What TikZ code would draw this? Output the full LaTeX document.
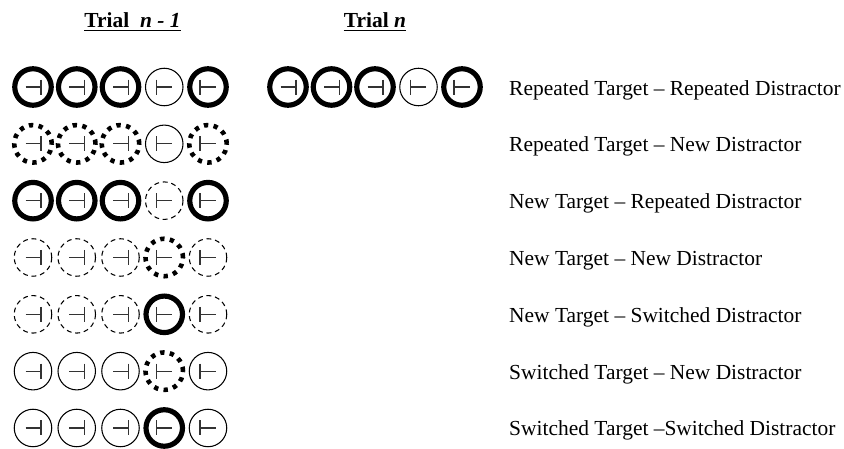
\documentclass[tikz,border=0pt]{standalone}
\usepackage{fontspec}
\setmainfont{Liberation Serif}
\usetikzlibrary{positioning}
\tikzset{
	ring/.style={circle, draw, inner sep=0pt, minimum size=1.125cm, line width=1pt},
	thickring/.style={minimum size=1.095cm, line width=4.4pt},
	thinring/.style={line width=0.9pt},
	dotring/.style={line width=3.9pt, dash pattern=on 3.7pt off 4.6pt},
	dashring/.style={line width=0.9pt, dash pattern=on 4.2pt off 3.2pt},
	bar/.style={line width=1pt, draw=black!80},
	heading/.style={font=\fontsize{18.3}{22}\selectfont\bfseries, anchor=base, inner sep=0pt},
	caption/.style={font=\fontsize{18.3}{22}\selectfont, anchor=base west, inner sep=0pt},
}
% one ring with its T bar: name, x, y, ring style, direction (1 = left, -1 = right)
\newcommand{\stim}[5]{%
	\node[ring, #4] (#1) at (#2,#3) {};
	\draw[bar] ([shift={({-7.5*#5},0)}]#1.center) -- ([shift={({8*#5},0)}]#1.center)
		([shift={({8*#5},-7.5)}]#1.center) -- ([shift={({8*#5},7.5)}]#1.center);
}

\begin{document}
\begin{tikzpicture}[x=0.03cm, y=-0.03cm]
	\useasboundingbox (0,0) rectangle (844,448);

	\node[heading] (H1) at (132.5,27) {Trial\ \ \textit{n - 1}};
	\node[heading] (H2) at (375,27) {Trial \textit{n}};
	\draw[line width=1.6pt] ([yshift=-3pt]H1.base west) -- ([yshift=-3pt]H1.base east);
	\draw[line width=1.6pt] ([yshift=-3pt]H2.base west) -- ([yshift=-3pt]H2.base east);

	\foreach \r/\a/\b/\c/\d/\e/\txt in {
		1/thickring/thickring/thickring/thinring/thickring/{Repeated Target – Repeated Distractor},
		2/dotring/dotring/dotring/thinring/dotring/{Repeated Target – New Distractor},
		3/thickring/thickring/thickring/dashring/thickring/{New Target – Repeated Distractor},
		4/dashring/dashring/dashring/dotring/dashring/{New Target – New Distractor},
		5/dashring/dashring/dashring/thickring/dashring/{New Target – Switched Distractor},
		6/thinring/thinring/thinring/dotring/thinring/{Switched Target – New Distractor},
		7/thinring/thinring/thinring/thickring/thinring/{Switched Target –Switched Distractor}}
	{
		\pgfmathsetmacro\yy{87+56.83*(\r-1)}
		\foreach \s [count=\k] in {\a,\b,\c,\d,\e} {
			\pgfmathsetmacro\xx{33+43.75*(\k-1)}
			\pgfmathsetmacro\dir{\k<4 ? 1 : -1}
			\stim{P\r\k}{\xx}{\yy}{\s}{\dir}
		}
		\node[caption] (T\r) at (509,\yy+8) {\txt};
	}

	% trial n, first row only
	\foreach \s [count=\k] in {thickring,thickring,thickring,thinring,thickring} {
		\pgfmathsetmacro\xx{288+43.5*(\k-1)}
		\pgfmathsetmacro\dir{\k<4 ? 1 : -1}
		\stim{N\k}{\xx}{87}{\s}{\dir}
	}
\end{tikzpicture}
\end{document}
